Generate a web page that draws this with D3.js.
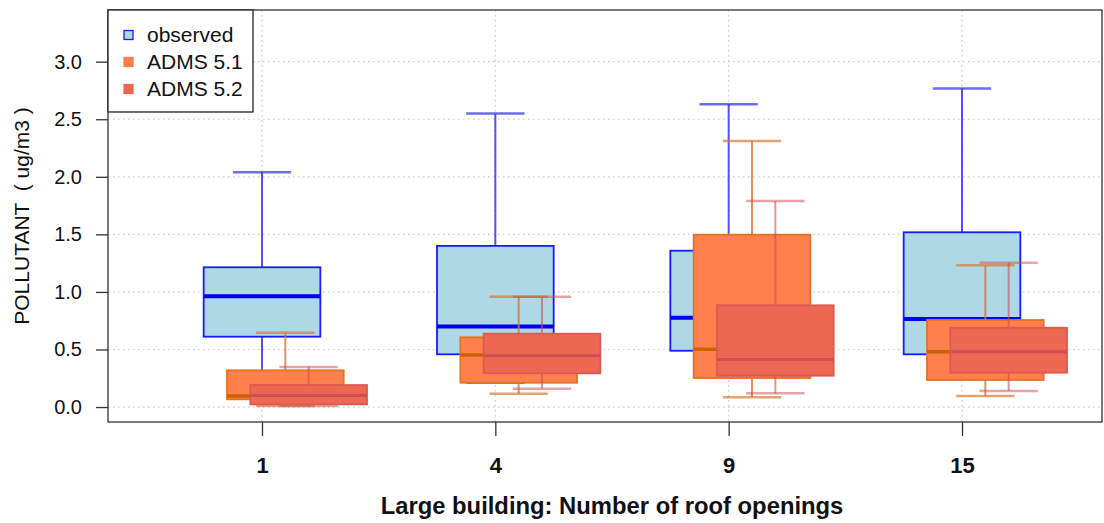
<!DOCTYPE html>
<html>
<head>
<meta charset="utf-8">
<script src="https://cdn.jsdelivr.net/npm/d3@7"></script>
<style>
  body { margin: 0; background: #fff; }
  svg { display: block; font-family: "Liberation Sans", Arial, sans-serif; }
</style>
</head>
<body>
<svg id="chart" width="1104" height="523"></svg>
<script>
// roof openings on the x axis
const groups = ["1", "4", "9", "15"];
const seriesNames = ["observed", "ADMS 5.1", "ADMS 5.2"];
const yTicks = [0, 0.5, 1.0, 1.5, 2.0, 2.5, 3.0];

// [lower whisker, q1, median, q3, upper whisker] per group
const observed = [
    [0.10, 0.611, 0.962, 1.214, 2.04],
    [0.211, 0.458, 0.70, 1.40, 2.55],
    [0.30, 0.489, 0.776, 1.358, 2.63],
    [0.28, 0.458, 0.765, 1.518, 2.766]
];
const adms51 = [
    [0.01, 0.067, 0.096, 0.319, 0.646],
    [0.116, 0.211, 0.452, 0.606, 0.958],
    [0.084, 0.252, 0.501, 1.497, 2.311],
    [0.096, 0.235, 0.48, 0.756, 1.231]
];
const adms52 = [
    [0.01, 0.023, 0.10, 0.191, 0.348],
    [0.159, 0.293, 0.446, 0.637, 0.958],
    [0.119, 0.272, 0.414, 0.884, 1.79],
    [0.139, 0.298, 0.48, 0.689, 1.254]
];

const styles = [
    { fill: "#add8e6", stroke: "#1a1aff", median: "#0000ee", medW: 4, whisk: "#3333ff", whiskOp: 0.85 },
    { fill: "#ff7f4d", stroke: "#e27425", median: "#cc6000", medW: 3.5, whisk: "#d9752f", whiskOp: 0.8 },
    { fill: "#ec6852", stroke: "#dc5a50", median: "#cf4f55", medW: 3, whisk: "#d04d4d", whiskOp: 0.6 }
];

const frame = { left: 108, right: 1102, top: 10, bottom: 422 };
const svg = d3.select("#chart");

const x = d3.scaleLinear().domain([0.34, 4.6]).range([frame.left, frame.right]);
const y = d3.scaleLinear().domain([-0.13, 3.449]).range([frame.bottom, frame.top]);

const boxW = 0.5;
const offsets = [0, 0.1, 0.2];

// grid
const grid = svg.append("g");
grid.selectAll("line.h")
    .data(yTicks)
    .join("line")
    .attr("class", "h")
    .attr("x1", frame.left).attr("x2", frame.right)
    .attr("y1", d => y(d)).attr("y2", d => y(d))
    .attr("stroke", "#c8c8c8").attr("stroke-width", 1.2)
    .attr("stroke-dasharray", "1.5,3.5");
grid.selectAll("line.v")
    .data(groups)
    .join("line")
    .attr("class", "v")
    .attr("x1", (d, i) => x(i + 1)).attr("x2", (d, i) => x(i + 1))
    .attr("y1", frame.top).attr("y2", frame.bottom)
    .attr("stroke", "#c8c8c8").attr("stroke-width", 1.2)
    .attr("stroke-dasharray", "1.5,3.5");

// boxes, drawn series by series like successive boxplot(add=TRUE) calls
[observed, adms51, adms52].forEach((series, s) => {
    const st = styles[s];
    const g = svg.append("g").attr("class", "series-" + s);
    const items = g.selectAll("g.box")
        .data(series)
        .join("g")
        .attr("class", "box");

    const cx = (d, i) => x(i + 1 + offsets[s]);
    const half = (x(boxW) - x(0)) / 2;

    // whiskers
    items.append("line")
        .attr("x1", cx).attr("x2", cx)
        .attr("y1", d => y(d[4])).attr("y2", d => y(d[3]))
        .attr("stroke", st.whisk).attr("stroke-opacity", st.whiskOp).attr("stroke-width", 2);
    items.append("line")
        .attr("x1", cx).attr("x2", cx)
        .attr("y1", d => y(d[1])).attr("y2", d => y(d[0]))
        .attr("stroke", st.whisk).attr("stroke-opacity", st.whiskOp).attr("stroke-width", 2);
    [0, 4].forEach(k => {
        items.append("line")
            .attr("x1", (d, i) => cx(d, i) - half / 2)
            .attr("x2", (d, i) => cx(d, i) + half / 2)
            .attr("y1", d => y(d[k])).attr("y2", d => y(d[k]))
            .attr("stroke", st.whisk).attr("stroke-opacity", st.whiskOp * 0.85).attr("stroke-width", 2.5);
    });

    items.append("rect")
        .attr("x", (d, i) => cx(d, i) - half)
        .attr("width", half * 2)
        .attr("y", d => y(d[3]))
        .attr("height", d => y(d[1]) - y(d[3]))
        .attr("fill", st.fill)
        .attr("stroke", st.stroke).attr("stroke-width", 1.8);

    items.append("line")
        .attr("x1", (d, i) => cx(d, i) - half)
        .attr("x2", (d, i) => cx(d, i) + half)
        .attr("y1", d => y(d[2])).attr("y2", d => y(d[2]))
        .attr("stroke", st.median).attr("stroke-width", st.medW);
});

// frame
svg.append("rect")
    .attr("x", frame.left).attr("y", frame.top)
    .attr("width", frame.right - frame.left)
    .attr("height", frame.bottom - frame.top)
    .attr("fill", "none").attr("stroke", "#333").attr("stroke-width", 1.3);

// y axis
const yAxis = svg.append("g")
    .attr("transform", `translate(${frame.left},0)`)
    .call(d3.axisLeft(y).tickValues(yTicks).tickFormat(d3.format(".1f")).tickSize(12).tickPadding(14));
yAxis.select(".domain").remove();
yAxis.selectAll(".tick line").attr("stroke", "#333").attr("stroke-width", 1.3);
yAxis.selectAll(".tick text").attr("font-size", 20).attr("fill", "#111")
    .attr("font-family", "Liberation Sans, Arial, sans-serif");

// x axis
const xAxis = svg.append("g")
    .attr("transform", `translate(0,${frame.bottom})`)
    .call(d3.axisBottom(x).tickValues([1, 2, 3, 4]).tickFormat((d, i) => groups[i]).tickSize(14).tickPadding(21));
xAxis.select(".domain").remove();
xAxis.selectAll(".tick line").attr("stroke", "#333").attr("stroke-width", 1.3);
xAxis.selectAll(".tick text").attr("font-size", 22).attr("font-weight", "bold").attr("fill", "#111")
    .attr("font-family", "Liberation Sans, Arial, sans-serif");

// titles
svg.append("text")
    .attr("x", 612).attr("y", 514)
    .attr("text-anchor", "middle")
    .attr("font-size", 23.8).attr("font-weight", "bold").attr("fill", "#111")
    .text("Large building: Number of roof openings");

svg.append("text")
    .attr("transform", "translate(29,216) rotate(-90)")
    .attr("text-anchor", "middle")
    .attr("font-size", 21).attr("fill", "#111")
    .style("white-space", "pre")
    .text("POLLUTANT  ( ug/m3 )");

// legend
const legend = svg.append("g").attr("transform", `translate(${frame.left},${frame.top})`);
legend.append("rect")
    .attr("x", 0).attr("y", 0).attr("width", 145).attr("height", 102)
    .attr("fill", "#fff").attr("stroke", "#222").attr("stroke-width", 1.3);
const legendItems = legend.selectAll("g.legend-item")
    .data(seriesNames)
    .join("g")
    .attr("class", "legend-item")
    .attr("transform", (d, i) => `translate(0,${25 + i * 27})`);
legendItems.append("rect")
    .attr("x", 16).attr("y", -4.5).attr("width", 9).attr("height", 9)
    .attr("fill", (d, i) => styles[i].fill)
    .attr("stroke", (d, i) => i === 0 ? "#1a1aff" : styles[i].fill).attr("stroke-width", 1.3);
legendItems.append("text")
    .attr("x", 39).attr("y", 0).attr("dy", "0.35em")
    .attr("font-size", 21).attr("fill", "#111")
    .text(d => d);
</script>
</body>
</html>
